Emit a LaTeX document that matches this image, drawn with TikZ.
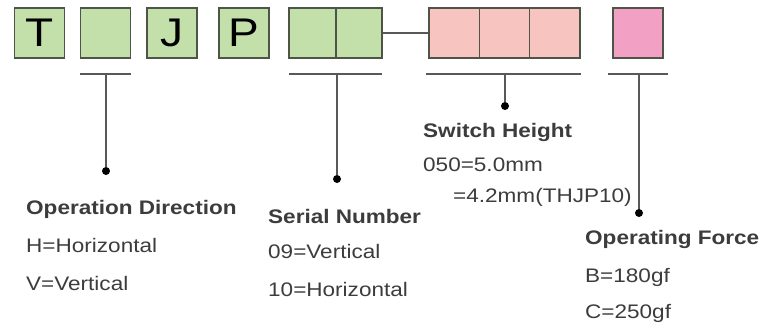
\documentclass[tikz,border=0pt]{standalone}
\usepackage{fontspec}
\setmainfont{Liberation Sans}[FakeStretch=1.15]
\usetikzlibrary{positioning}
\definecolor{cellgreen}{RGB}{196,224,170}
\definecolor{cellsalmon}{RGB}{248,196,192}
\definecolor{cellpink}{RGB}{242,160,196}
\definecolor{rimgray}{RGB}{78,84,72}
\definecolor{leadgray}{RGB}{88,88,88}
\definecolor{textgray}{RGB}{60,60,60}
\tikzset{
  cell/.style={draw=rimgray,line width=1.6pt,minimum width=50pt,minimum height=50pt,inner sep=0pt,
    font=\fontsize{40}{40}\selectfont},
  bracket/.style={draw=leadgray,line width=2pt},
  pin/.style={circle,fill=black,inner sep=0pt,minimum size=8pt},
  head/.style={anchor=base west,inner sep=0pt,text=textgray,font=\fontsize{19.6}{22}\selectfont\bfseries},
  entry/.style={anchor=base west,inner sep=0pt,text=textgray,font=\fontsize{19.6}{22}\selectfont}
}
\begin{document}
\begin{tikzpicture}[x=1pt,y=-1pt]
  \useasboundingbox (0,0) rectangle (763,330);
  % code boxes
  \foreach \name/\x/\ch in {t/39.5/T,od/105.5/{},j/172/J,p/244/P}
    \node[cell,fill=cellgreen] (\name) at (\x,33) {\ch};
  \node[cell,fill=cellgreen,minimum width=46.5pt] (sn1) at (312.5,33) {};
  \node[cell,fill=cellgreen,minimum width=46.5pt] (sn2) at (359,33) {};
  \foreach \name/\x in {sh1/454.2,sh2/504.5,sh3/554.8}
    \node[cell,fill=cellsalmon,minimum width=50.3pt] (\name) at (\x,33) {};
  \node[cell,fill=cellpink] (of) at (638,33) {};
  \draw[bracket] (sn2.east) -- (sh1.west);

  % brackets and leads
  \draw[bracket] (80,74) -- (131,74);
  \draw[bracket] (289,74) -- (382,74);
  \draw[bracket] (426,74) -- (581,74);
  \draw[bracket] (608,74) -- (668,74);
  \coordinate (odtop) at (106,74);
  \coordinate (sntop) at (337,74);
  \coordinate (shtop) at (505,74);
  \coordinate (oftop) at (639,74);
  \node[pin] (oddot) at (106,171) {};
  \node[pin] (sndot) at (337,179) {};
  \node[pin] (shdot) at (505,106) {};
  \node[pin] (ofdot) at (639,213) {};
  \draw[bracket] (odtop) -- (oddot);
  \draw[bracket] (sntop) -- (sndot);
  \draw[bracket] (shtop) -- (shdot);
  \draw[bracket] (oftop) -- (ofdot);

  % legends
  \node[head] (odhead) at (26,214) {Operation Direction};
  \node[entry] (odh) at (26,252) {H=Horizontal};
  \node[entry] (odv) at (26,290) {V=Vertical};
  \node[head] (snhead) at (268,223) {Serial Number};
  \node[entry] (snv) at (268,258) {09=Vertical};
  \node[entry] (snh) at (268,296) {10=Horizontal};
  \node[head] (shhead) at (423,137) {Switch Height};
  \node[entry] (sha) at (423,171) {050=5.0mm};
  \node[entry] (shb) at (453,202) {=4.2mm(THJP10)};
  \node[head] (ofhead) at (585,244) {Operating Force};
  \node[entry] (ofb) at (585,282) {B=180gf};
  \node[entry] (ofc) at (585,318) {C=250gf};
\end{tikzpicture}
\end{document}
